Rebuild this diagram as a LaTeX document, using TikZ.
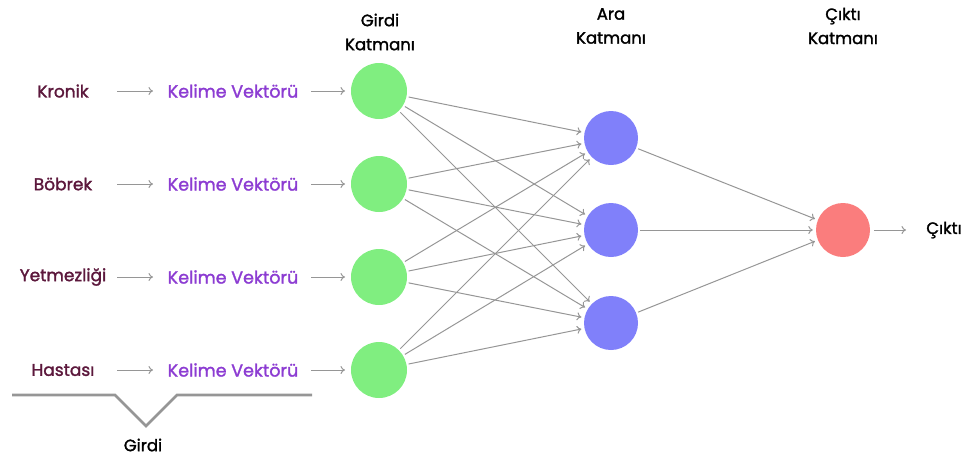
\documentclass[tikz,border=0pt]{standalone}
\usepackage{fontspec}
\setmainfont{Poppins}[FakeBold=1.6]
\usetikzlibrary{arrows.meta}
\definecolor{ingreen}{RGB}{128,238,128}
\definecolor{hidblue}{RGB}{128,128,250}
\definecolor{outred}{RGB}{250,125,125}
\definecolor{wordcol}{RGB}{92,24,60}
\definecolor{veccol}{RGB}{140,60,210}
\definecolor{edgecol}{RGB}{150,150,150}
\definecolor{bracecol}{RGB}{150,150,150}
\tikzset{
  neuron/.style={circle, minimum size=56pt, inner sep=0pt},
  inn/.style={neuron, fill=ingreen},
  hid/.style={neuron, fill=hidblue, minimum size=54pt},
  outn/.style={neuron, fill=outred, minimum size=54pt},
  word/.style={text=wordcol, font=\fontsize{17}{18}\selectfont, inner sep=1pt},
  vec/.style={text=veccol, font=\fontsize{17.5}{18}\selectfont, inner sep=1pt},
  head/.style={text=black, font=\fontsize{16.5}{24}\selectfont, align=center},
  conn/.style={draw=edgecol, line width=1pt, -{To[length=4.5pt,width=8pt]}},
  small/.style={conn, shorten >=3pt, shorten <=2pt},
}
\begin{document}
\begin{tikzpicture}[x=1pt,y=-1pt]
\useasboundingbox (0,0) rectangle (968,459);
% input neurons
\node[inn] (i1) at (379,91) {};
\node[inn] (i2) at (379,184) {};
\node[inn] (i3) at (379,277) {};
\node[inn] (i4) at (379,370) {};
% hidden neurons
\node[hid] (h1) at (611,138) {};
\node[hid] (h2) at (611,230) {};
\node[hid] (h3) at (611,323) {};
% output neuron
\node[outn] (o) at (843,230) {};
% headers
\node[head] (hin) at (380,32) {Girdi\\Katmanı};
\node[head] (hhid) at (611,26) {Ara\\Katmanı};
\node[head] (hout) at (843,26) {Çıktı\\Katmanı};
% words
\foreach \n/\w/\y in {1/Kronik/91, 2/Böbrek/184, 3/Yetmezliği/277, 4/Hastası/370}{
  \node[word] (w\n) at (63,\y) {\w};
  \node[vec] (v\n) at (233,\y) {Kelime Vektörü};
  \coordinate (wa\n) at (117,\y);
  \coordinate (wb\n) at (153,\y);
  \coordinate (va\n) at (311,\y);
  \coordinate (vb\n) at (345,\y);
  \draw[conn] (wa\n) -- (wb\n);
  \draw[conn] (va\n) -- (vb\n);
}
% input -> hidden
\foreach \a in {1,2,3,4}{
  \foreach \b in {1,2,3}{
    \draw[small] (i\a) -- (h\b);
  }
}
% hidden -> output
\foreach \b in {1,2,3}{
  \draw[small] (h\b) -- (o);
}
% output arrow
\node[head] (out) at (944,230) {Çıktı};
\coordinate (oa) at (874,230);
\coordinate (ob) at (906,230);
\draw[conn] (oa) -- (ob);
% brace
\coordinate (b1) at (12,395);
\coordinate (b2) at (115,395);
\coordinate (b3) at (146,426);
\coordinate (b4) at (177,395);
\coordinate (b5) at (312,395);
\draw[bracecol, line width=2.6pt, line join=miter] (b1) -- (b2) -- (b3) -- (b4) -- (b5);
\node[head] (girdi) at (143,445) {Girdi};
\end{tikzpicture}
\end{document}
